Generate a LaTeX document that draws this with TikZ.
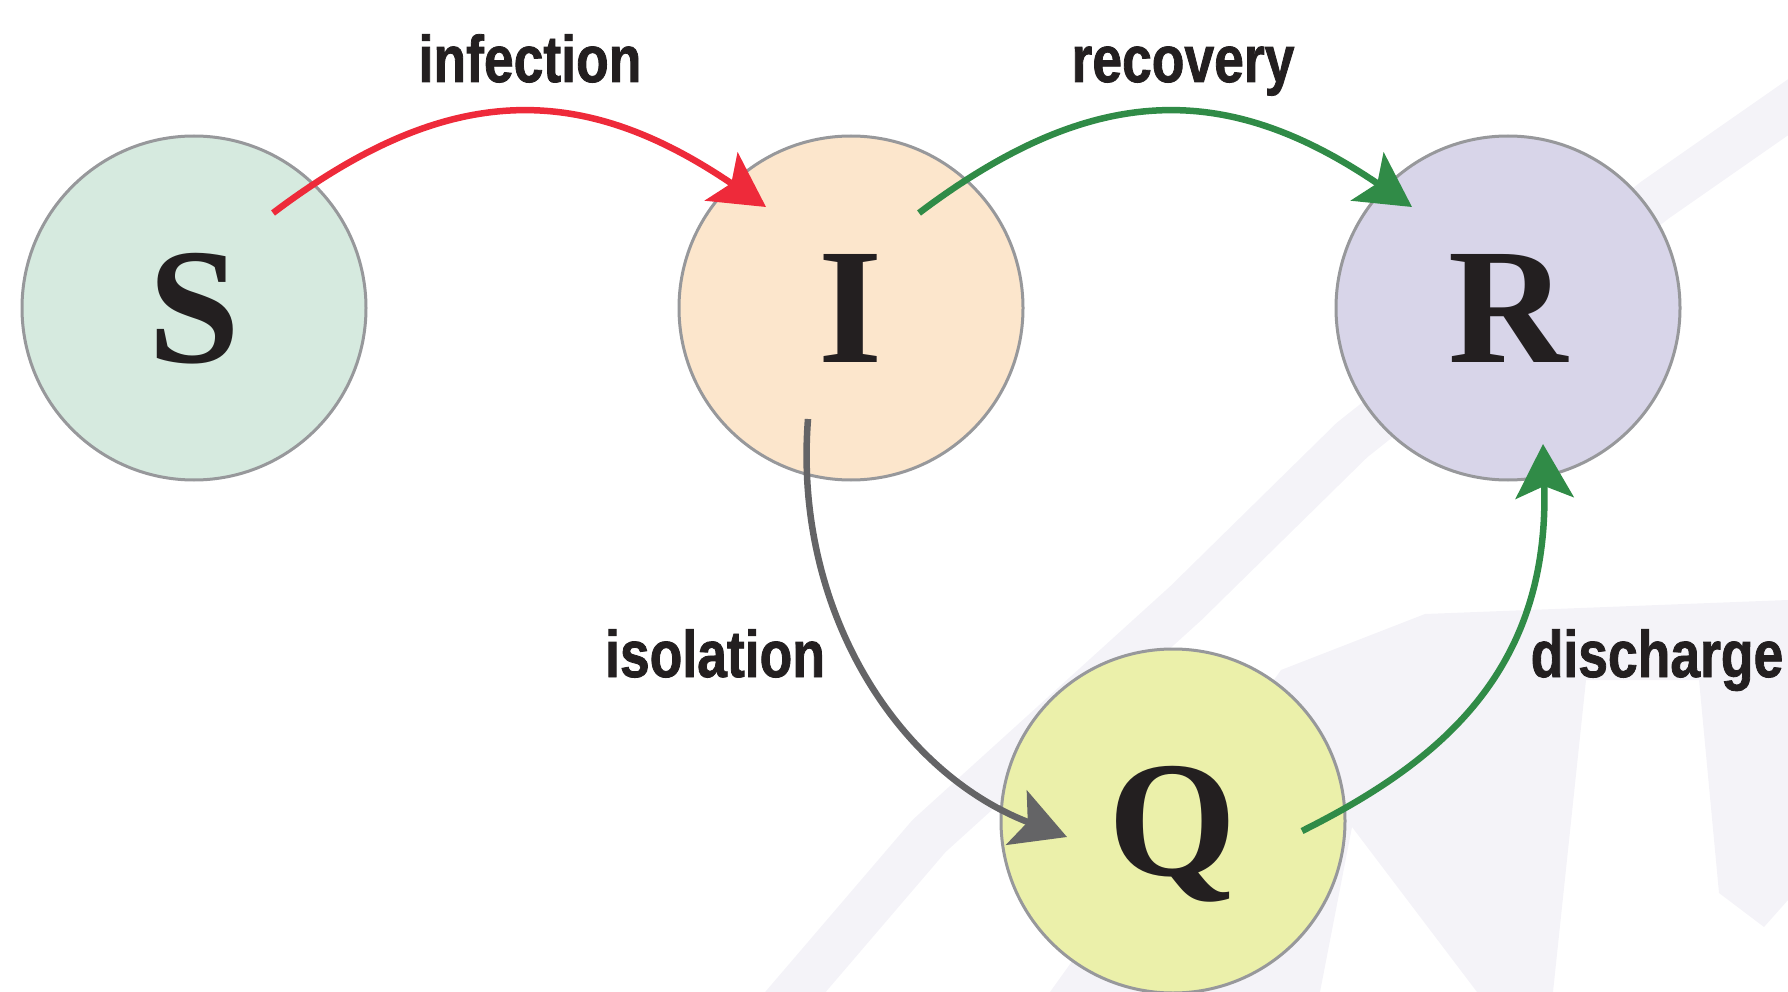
\documentclass[tikz,border=0pt]{standalone}
\usepackage{fontspec}
\setmainfont{Liberation Serif}
\newfontfamily\labfont[FakeStretch=0.81,FakeBold=1.2]{Liberation Sans}
\newfontfamily\letfont{Liberation Serif}
\usetikzlibrary{arrows.meta}
\definecolor{ink}{HTML}{231F20}
\definecolor{cborder}{HTML}{97989B}
\definecolor{fillS}{HTML}{D6EADF}
\definecolor{fillI}{HTML}{FCE6CC}
\definecolor{fillR}{HTML}{D8D5E9}
\definecolor{fillQ}{HTML}{EBF0AA}
\definecolor{redarrow}{HTML}{EE2A3A}
\definecolor{greenarrow}{HTML}{308B47}
\definecolor{grayarrow}{HTML}{646466}
\definecolor{wmcol}{HTML}{F4F3F8}
\begin{document}
\begin{tikzpicture}[x=1pt,y=-1pt,
  state/.style={circle, draw=cborder, line width=3pt, minimum size=344pt, inner sep=0pt,
    font=\letfont\bfseries\fontsize{165}{165}\selectfont, text=ink, text height=108pt, text depth=0pt},
  flow/.style={line width=6.5pt, -{Stealth[length=54pt,width=58pt,inset=12pt]}},
  lab/.style={font=\labfont\bfseries\fontsize{66}{66}\selectfont, text=ink, anchor=base, inner sep=0pt},
  wm/.style={fill=wmcol, draw=none}]
\useasboundingbox (0,0) rectangle (1788,992);
% faint watermark
\draw[wmcol, line width=46pt, line join=round] (1830,78) -- (1655,200) -- (1352,440) -- (1186,603) -- (929,836) -- (780,1010);
\fill[wm] (1281,670) -- (1425,614) -- (1788,600) -- (1788,900) -- (1764,927) -- (1719,893)
  -- (1699,680) -- (1586,680) -- (1553,992) -- (1477,992) -- (1352,827) -- (1320,992) -- (1050,992) -- cycle;
% states
\node[state, fill=fillS] (S) at (194,308) {S};
\node[state, fill=fillI] (I) at (851,308) {I};
\node[state, fill=fillR] (R) at (1508,308) {R};
\node[state, fill=fillQ] (Q) at (1173,821) {Q};
% flows
\draw[flow, redarrow] ([shift={(79,-95)}]S.center) .. controls +(175,-132) and +(-185,-126) .. ([shift={(-85,-101)}]I.center);
\draw[flow, greenarrow] ([shift={(68,-95)}]I.center) .. controls +(175,-132) and +(-185,-126) .. ([shift={(-96,-101)}]R.center);
\draw[flow, grayarrow] ([shift={(-43,111)}]I.center) .. controls +(-15,190) and +(-170,-65) .. ([shift={(-106,16)}]Q.center);
\draw[flow, greenarrow] ([shift={(129,10)}]Q.center) .. controls +(134,-67) and +(7,230) .. ([shift={(35,136)}]R.center);
% labels
\node[lab] (linf) at (530,82) {infection};
\node[lab] (lrec) at (1183,82) {recovery};
\node[lab] (liso) at (715,677) {isolation};
\node[lab] (ldis) at (1657,677) {discharge};
\end{tikzpicture}
\end{document}
